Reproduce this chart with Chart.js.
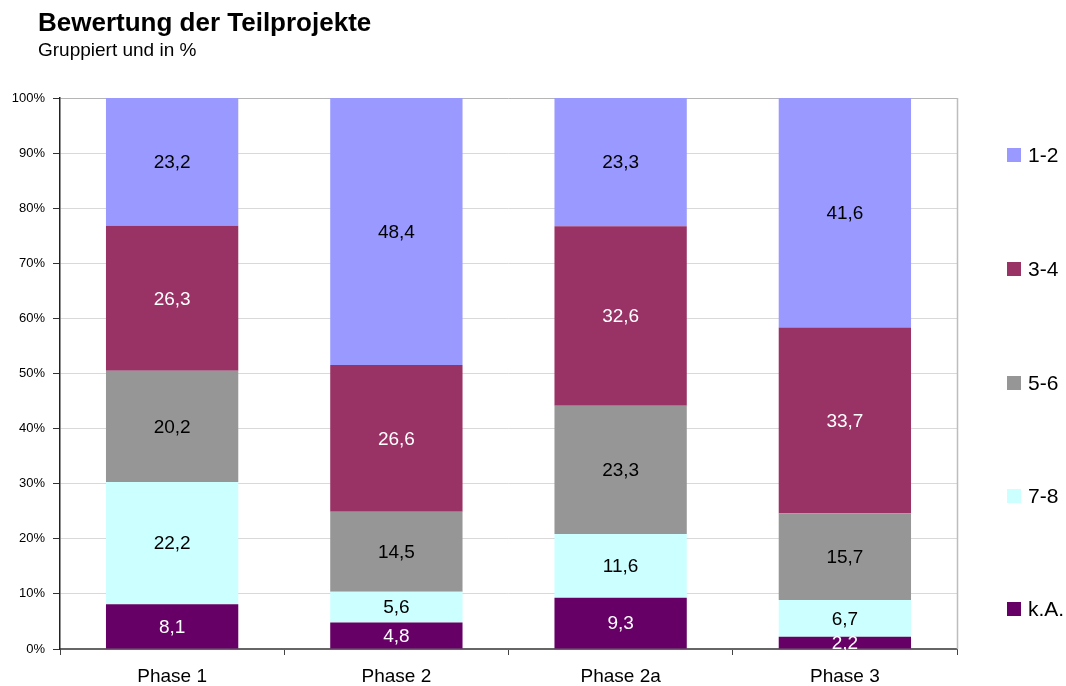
<!DOCTYPE html>
<html><head><meta charset="utf-8">
<script src="https://cdn.jsdelivr.net/npm/chart.js@4/dist/chart.umd.min.js"></script>
<style>
html,body{margin:0;padding:0;background:#fff;}
#wrap{position:relative;width:1066px;height:686px;}
#title{position:absolute;left:38px;top:7px;font:bold 26px "Liberation Sans",Arial,sans-serif;color:#000;}
#sub{position:absolute;left:38px;top:39px;font:19px "Liberation Sans",Arial,sans-serif;color:#000;}
canvas{position:absolute;left:0;top:0;}
</style></head><body>
<div id="wrap">
<canvas id="c" width="1066" height="686"></canvas>
<div id="title">Bewertung der Teilprojekte</div>
<div id="sub">Gruppiert und in %</div>
</div>
<script>
const categories = ["Phase 1", "Phase 2", "Phase 2a", "Phase 3"];
const seriesNames = ["k.A.", "7-8", "5-6", "3-4", "1-2"];
const kA   = [8.1, 4.8, 9.3, 2.2];
const v78  = [22.2, 5.6, 11.6, 6.7];
const v56  = [20.2, 14.5, 23.3, 15.7];
const v34  = [26.3, 26.6, 32.6, 33.7];
const v12  = [23.2, 48.4, 23.3, 41.6];
const seriesColors = ["#660066", "#CCFFFF", "#969696", "#993366", "#9999FF"];
const labelColors = ["#ffffff", "#000000", "#000000", "#ffffff", "#000000"];
const yTicks = [0,10,20,30,40,50,60,70,80,90,100];

const raw = [kA, v78, v56, v34, v12];
const sums = categories.map((_, i) => raw.reduce((s, arr) => s + arr[i], 0));
const datasets = raw.map((arr, k) => ({
  label: seriesNames[k],
  data: arr.map((v, i) => v / sums[i] * 100),
  rawValues: arr,
  backgroundColor: seriesColors[k],
  labelColor: labelColors[k],
  borderWidth: 0,
  barPercentage: 0.59,
  categoryPercentage: 1.0
}));

const FONT = '"Liberation Sans", Arial, sans-serif';

const labelsPlugin = {
  id: 'barLabels',
  afterDatasetsDraw(chart) {
    const ctx = chart.ctx;
    ctx.save();
    ctx.font = '19px ' + FONT;
    ctx.textAlign = 'center';
    ctx.textBaseline = 'middle';
    chart.data.datasets.forEach((ds, k) => {
      const meta = chart.getDatasetMeta(k);
      meta.data.forEach((bar, i) => {
        const yMid = (bar.y + bar.base) / 2;
        ctx.fillStyle = ds.labelColor;
        ctx.fillText(ds.rawValues[i].toFixed(1).replace('.', ','), bar.x, yMid + 1);
      });
    });
    ctx.restore();
  }
};

const framePlugin = {
  id: 'frame',
  beforeDatasetsDraw(chart) {
    const a = chart.chartArea, ctx = chart.ctx;
    ctx.save();
    ctx.strokeStyle = '#bdbdbd';
    ctx.lineWidth = 1.5;
    ctx.beginPath();
    ctx.moveTo(Math.round(a.right) + 0.5, a.top);
    ctx.lineTo(Math.round(a.right) + 0.5, a.bottom);
    ctx.stroke();
    ctx.restore();
  }
};

const legendPlugin = {
  id: 'sideLegend',
  afterDraw(chart) {
    const ctx = chart.ctx;
    ctx.save();
    ctx.font = '21px ' + FONT;
    ctx.textBaseline = 'middle';
    ctx.textAlign = 'left';
    const ys = [609, 496, 383, 269, 155];
    chart.data.datasets.forEach((ds, k) => {
      const y = ys[k];
      ctx.fillStyle = ds.backgroundColor;
      ctx.fillRect(1007, y - 7, 14, 14);
      ctx.fillStyle = '#000';
      ctx.fillText(ds.label, 1028, y + 1);
    });
    ctx.restore();
  }
};

new Chart(document.getElementById('c'), {
  type: 'bar',
  data: { labels: categories, datasets },
  options: {
    responsive: false,
    animation: false,
    layout: { padding: { left: 0, right: 109, top: 98, bottom: 0 } },
    plugins: { legend: { display: false }, tooltip: { enabled: false }, title: { display: false } },
    scales: {
      x: {
        stacked: true,
        offset: true,
        grid: { display: true, drawOnChartArea: false, drawTicks: true, tickLength: 6, offset: true, color: '#444' },
        border: { display: true, color: '#666', width: 2 },
        ticks: { color: '#000', font: { family: FONT, size: 19 }, padding: 10 },
        afterFit(s) { s.height = 37; }
      },
      y: {
        stacked: true,
        min: 0, max: 100,
        afterBuildTicks(s) { s.ticks = yTicks.map(v => ({ value: v })); },
        grid: {
          color: (c) => c.tick && c.tick.value === 100 ? '#b5b5b5' : '#d9d9d9',
          tickColor: '#333', tickLength: 7, lineWidth: 1
        },
        border: { display: true, color: '#222', width: 1.5 },
        ticks: { color: '#000', font: { family: FONT, size: 13 }, padding: 8, callback: v => v + '%' },
        afterFit(s) { s.width = 60; }
      }
    }
  },
  plugins: [framePlugin, labelsPlugin, legendPlugin]
});
</script>
</body></html>
